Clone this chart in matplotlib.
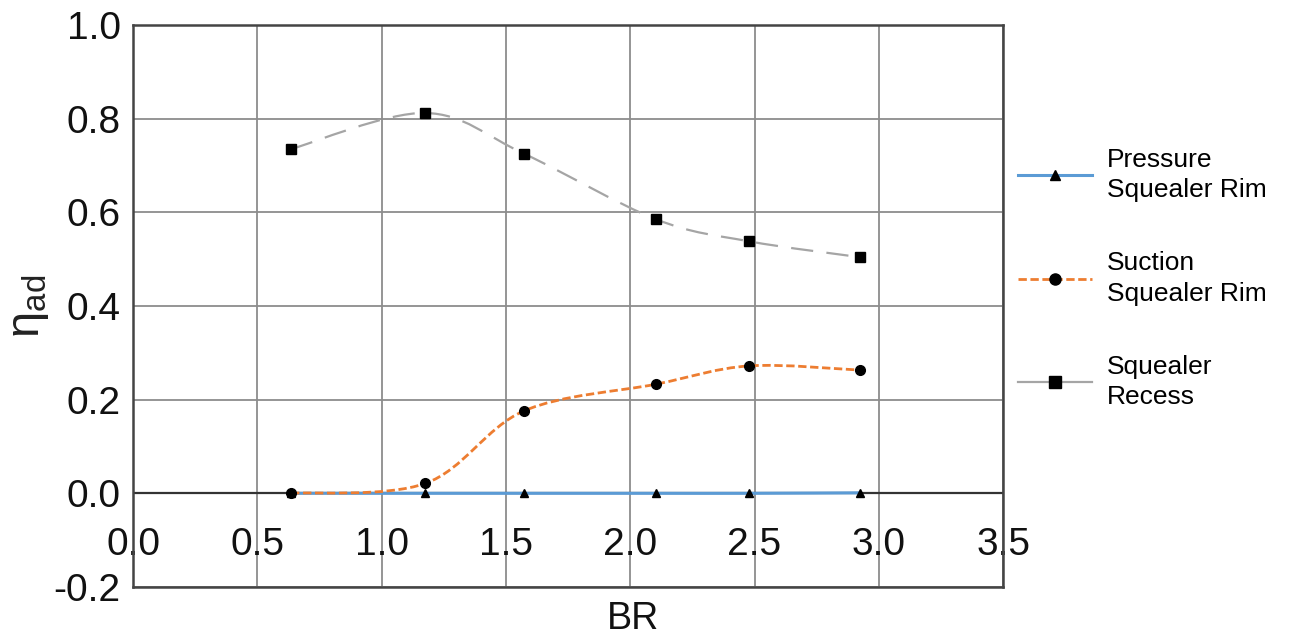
import numpy as np
import matplotlib
matplotlib.use('Agg')
import matplotlib.pyplot as plt
from matplotlib.path import Path
from matplotlib.patches import PathPatch
from matplotlib.lines import Line2D

plt.rcParams['font.family'] = ['Liberation Sans', 'DejaVu Sans']
plt.rcParams['mathtext.fontset'] = 'custom'
plt.rcParams['mathtext.rm'] = 'Liberation Sans'

# data
br = [0.636, 1.175, 1.573, 2.104, 2.478, 2.926]
pressure_rim = [0.0, 0.0, 0.0, 0.0, 0.0, 0.001]
suction_rim = [0.0, 0.021, 0.176, 0.233, 0.272, 0.263]
recess = [0.735, 0.812, 0.725, 0.585, 0.538, 0.504]

labels = ['Pressure\nSquealer Rim', 'Suction\nSquealer Rim', 'Squealer\nRecess']
colors = ['#5B9BD5', '#ED7D31', '#A5A5A5']
markers = ['^', 'o', 's']
styles = ['-', (0, (3, 1.3)), (0, (10, 6))]
legend_styles = ['-', (0, (3, 1.3)), '-']
widths = [2.2, 2.0, 1.6]
msizes = [6, 7, 7]

xticks = [0.0, 0.5, 1.0, 1.5, 2.0, 2.5, 3.0, 3.5]
yticks = [-0.2, 0.0, 0.2, 0.4, 0.6, 0.8, 1.0]


def smooth_path(x, y):
    # excel-like smoothed line: bezier through the points
    pts = np.column_stack([x, y])
    n = len(pts)
    verts = [pts[0]]
    codes = [Path.MOVETO]
    for i in range(n - 1):
        p0 = pts[max(i - 1, 0)]
        p1 = pts[i]
        p2 = pts[i + 1]
        p3 = pts[min(i + 2, n - 1)]
        verts += [p1 + (p2 - p0) / 6.0, p2 - (p3 - p1) / 6.0, p2]
        codes += [Path.CURVE4] * 3
    return Path(verts, codes)


fig = plt.figure(figsize=(12.89, 6.39), dpi=100)
ax = fig.add_axes([0.1032, 0.0814, 0.675, 0.8796])

ax.set_xlim(0, 3.5)
ax.set_ylim(-0.2, 1.0)
ax.set_xticks(xticks)
ax.set_yticks(yticks)
ax.set_xticklabels([f'{v:.1f}' for v in xticks])
ax.set_yticklabels([f'{v:.1f}' for v in yticks])
ax.grid(True, color='#8c8c8c', linewidth=1.3)
ax.set_axisbelow(True)
ax.axhline(0, color='#333333', linewidth=1.6, zorder=1.5)
for s in ax.spines.values():
    s.set_color('#444444')
    s.set_linewidth(1.8)

ax.tick_params(axis='both', length=0, labelsize=28, labelcolor='#111111')
ax.tick_params(axis='y', pad=9)
ax.tick_params(axis='x', pad=-43)

series = [pressure_rim, suction_rim, recess]
handles = []
for vals, c, m, ls, lls, lw, ms in zip(series, colors, markers, styles, legend_styles, widths, msizes):
    ax.add_patch(PathPatch(smooth_path(br, vals), fill=False, edgecolor=c,
                           linewidth=lw, linestyle=ls, zorder=3))
    ax.plot(br, vals, linestyle='none', marker=m, color='black', markersize=ms, zorder=4)
    handles.append(Line2D([], [], color=c, linestyle=lls, linewidth=lw,
                          marker=m, markerfacecolor='black', markeredgecolor='black',
                          markersize=ms + 1))

ax.set_xlabel('BR', fontsize=27, color='#111111')
ax.xaxis.set_label_coords(0.575, -0.025, transform=ax.transAxes)
ax.xaxis.label.set_va('top')
ax.set_ylabel(r'$\mathrm{\eta_{ad}}$', fontsize=34, color='#222222', labelpad=2)

leg = fig.legend(handles=handles, labels=labels, loc='center left',
                 bbox_to_anchor=(0.790, 0.564), frameon=False, fontsize=19,
                 handlelength=2.8, handletextpad=0.55, labelspacing=1.85,
                 borderpad=0, borderaxespad=0)
for t in leg.get_texts():
    t.set_linespacing(1.35)

fig.savefig('out.png', dpi=100)
